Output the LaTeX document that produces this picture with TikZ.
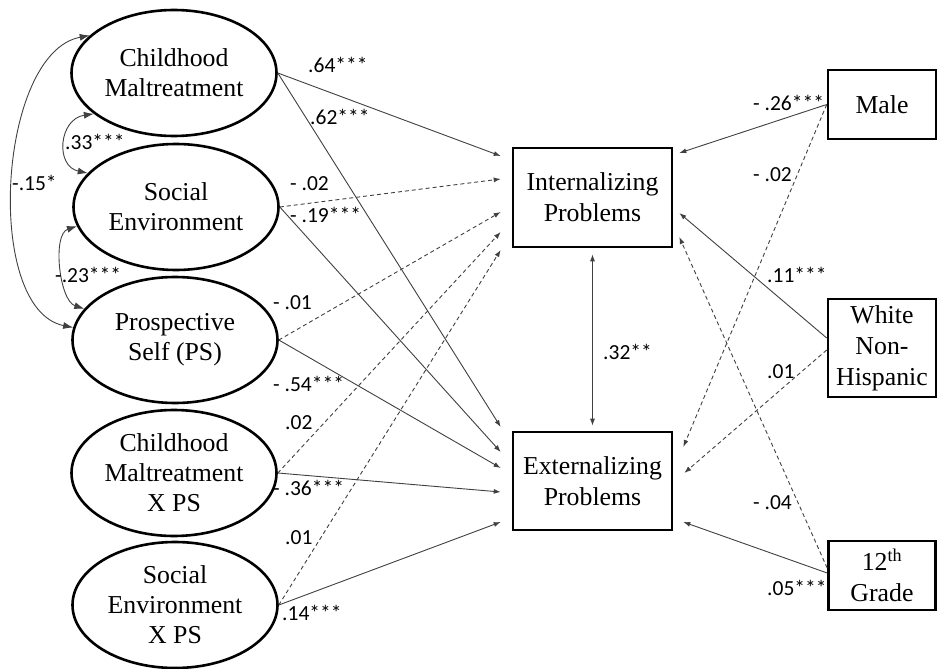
\documentclass[tikz,border=0pt]{standalone}
\usepackage{fontspec}
\setmainfont{Liberation Serif}
\newfontfamily\coeffont{Carlito}
\usetikzlibrary{shapes.geometric,arrows.meta}
\begin{document}
\begin{tikzpicture}[x=1pt,y=-1pt,
	latent/.style={draw, ellipse, line width=2.6pt, minimum width=205pt, minimum height=126pt, inner sep=0pt, align=center, font=\fontsize{25.8}{30}\selectfont},
	obs/.style={draw, rectangle, line width=2.6pt, inner sep=0pt, align=center, font=\fontsize{25.8}{31}\selectfont},
	eff/.style={-{Latex[length=7pt,width=5pt]}, draw=black!75, line width=0.9pt},
	nseff/.style={eff, dash pattern=on 4pt off 3pt},
	cov/.style={{Latex[length=10pt,width=7pt]}-{Latex[length=10pt,width=7pt]}, draw=black!75, line width=0.9pt},
	coef/.style={anchor=west, inner sep=0pt, font=\coeffont\fontsize{21.5}{24}\selectfont}]
		\useasboundingbox (0,0) rectangle (938,669);
		\node (CM)[latent] at (174,73) {Childhood\\Maltreatment};
		\node (SE)[latent] at (176,207) {Social\\Environment};
		\node (PS)[latent] at (175,340) {Prospective\\Self (PS)};
		\node (CMPS)[latent] at (174,473) {Childhood\\Maltreatment\\X PS};
		\node (SEPS)[latent] at (175,605) {Social\\Environment\\X PS};
		\node (INT)[obs, minimum width=159pt, minimum height=99pt] at (592.5,197.5) {Internalizing\\Problems};
		\node (EXT)[obs, minimum width=159pt, minimum height=98pt] at (592.5,481) {Externalizing\\Problems};
		\node (MALE)[obs, minimum width=108pt, minimum height=69pt] at (882,104.5) {Male};
		\node (WHITE)[obs, minimum width=108pt, minimum height=98pt] at (882,348) {White\\Non-\\Hispanic};
		\node (GRADE)[obs, minimum width=107pt, minimum height=69pt] at (882,575.5) {12\textsuperscript{th}\\Grade};
		% predictors -> internalizing
		\draw[eff] (CM.east) -- ([xshift=-11pt,yshift=41.5pt]INT.west);
		\draw[nseff] (SE.east) -- ([xshift=-11pt,yshift=18.5pt]INT.west);
		\draw[nseff] (PS.east) -- ([xshift=-11pt,yshift=-14.5pt]INT.west);
		\draw[nseff] (CMPS.east) -- ([xshift=-11pt,yshift=-34.5pt]INT.west);
		\draw[nseff] (SEPS.east) -- ([xshift=-11pt,yshift=-52.5pt]INT.west);
		% predictors -> externalizing
		\draw[eff] (CM.east) -- ([xshift=-11pt,yshift=54pt]EXT.west);
		\draw[eff] (SE.east) -- ([xshift=-11pt,yshift=29pt]EXT.west);
		\draw[eff] (PS.east) -- ([xshift=-11pt,yshift=13pt]EXT.west);
		\draw[eff] (CMPS.east) -- ([xshift=-11pt,yshift=-11pt]EXT.west);
		\draw[eff] (SEPS.east) -- ([xshift=-11pt,yshift=-41pt]EXT.west);
		% covariates
		\draw[eff] (MALE.west) -- ([xshift=6pt,yshift=44.5pt]INT.east);
		\draw[nseff] (MALE.west) -- ([xshift=10pt,yshift=34pt]EXT.east);
		\draw[eff] ([yshift=10pt]WHITE.west) -- ([xshift=6pt,yshift=-15.5pt]INT.east);
		\draw[nseff] ([yshift=-2pt]WHITE.west) -- ([xshift=11pt,yshift=8pt]EXT.east);
		\draw[nseff] ([yshift=7.5pt]GRADE.west) -- ([xshift=6pt,yshift=-39.5pt]INT.east);
		\draw[eff] ([yshift=2.5pt]GRADE.west) -- ([xshift=10pt,yshift=-41pt]EXT.east);
		\draw[cov, {Latex[length=7pt,width=5pt]}-{Latex[length=7pt,width=5pt]}] ([yshift=-6pt]INT.south) -- ([yshift=5pt]EXT.north);
		% correlations
		\draw[cov] (CM.207) .. controls +(-35,5) and +(-33,-7) .. (SE.159);
		\draw[cov] (SE.191) .. controls +(-25,8) and +(-25,-8) .. (PS.161);
		\draw[cov] (CM.156) .. controls +(-92,17) and +(-90,-18) .. (PS.173);
		% coefficients
		\node (c64)[coef] at (308,65) {.64***};
		\node (c62)[coef] at (310,117) {.62***};
		\node (c02a)[coef] at (290,184) {- .02};
		\node (c19)[coef] at (290,215) {- .19***};
		\node (c01a)[coef] at (273,303) {- .01};
		\node (c54)[coef] at (273,384) {- .54***};
		\node (c02b)[coef] at (285,423) {.02};
		\node (c36)[coef] at (273,488) {- .36***};
		\node (c01b)[coef] at (285,538) {.01};
		\node (c14)[coef] at (282,613) {.14***};
		\node (c32)[coef] at (603,352) {.32**};
		\node (c26)[coef] at (753,103) {- .26***};
		\node (c02c)[coef] at (753,175) {- .02};
		\node (c11)[coef] at (767,275) {.11***};
		\node (c01c)[coef] at (767,372) {.01};
		\node (c04)[coef] at (753,503) {- .04};
		\node (c05)[coef] at (767,588) {.05***};
		\node (c33)[coef] at (65,142) {.33***};
		\node (c15)[coef] at (12,183) {-.15*};
		\node (c23)[coef] at (55,275) {-.23***};
	\end{tikzpicture}
\end{document}
